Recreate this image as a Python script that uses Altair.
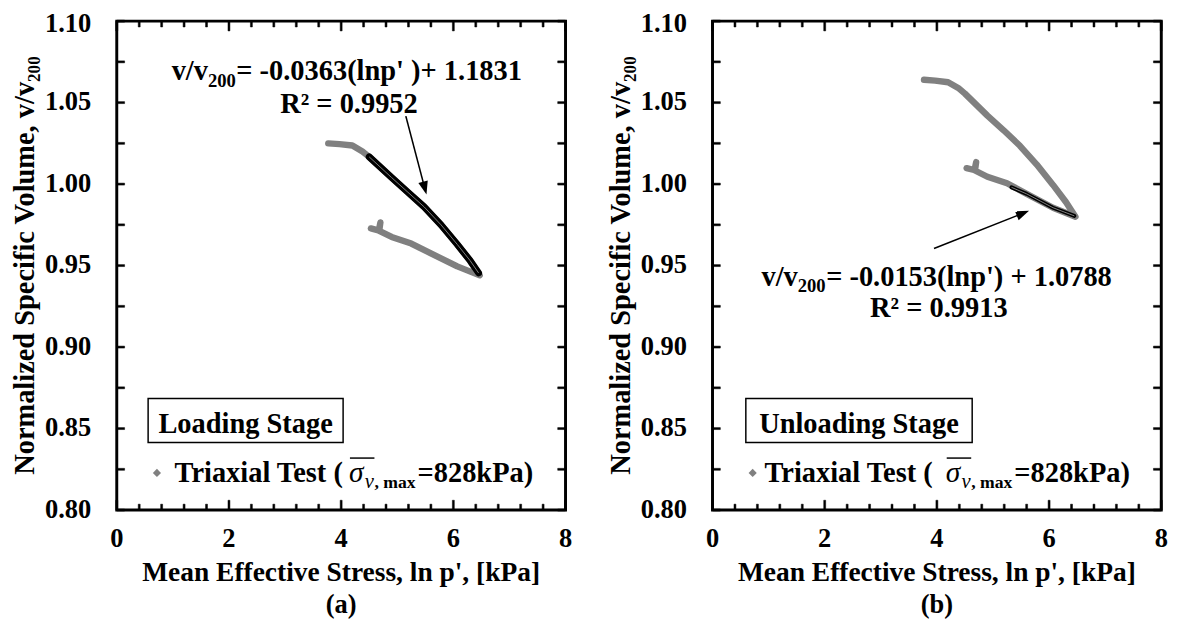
import altair as alt
import pandas as pd

FONT = "Liberation Serif"
GRAY = "#808080"

# ---------------- axis ticks and tick labels ----------------
X_MAJOR = [0, 2, 4, 6, 8]
X_LABELS = ["0", "2", "4", "6", "8"]
X_MINOR = [0.4, 0.8, 1.2, 1.6, 2.4, 2.8, 3.2, 3.6, 4.4, 4.8,
           5.2, 5.6, 6.4, 6.8, 7.2, 7.6]
Y_TICKS = [0.8, 0.825, 0.85, 0.875, 0.9, 0.925, 0.95, 0.975, 1.0, 1.025,
           1.05, 1.075, 1.1]
Y_LABEL_VALUES = [0.80, 0.85, 0.90, 0.95, 1.00, 1.05, 1.10]
Y_LABELS = ["0.80", "0.85", "0.90", "0.95", "1.00", "1.05", "1.10"]

# ---------------- panel (a): loading stage ----------------
A_LOAD_X = [3.77, 3.97, 4.20, 4.38, 4.50, 4.90, 5.19, 5.48, 5.78, 6.07, 6.30, 6.47]
A_LOAD_Y = [1.025, 1.0245, 1.0237, 1.020, 1.0167, 1.004, 0.995, 0.986, 0.975, 0.963, 0.953, 0.944]
A_UNLOAD_X = [6.47, 6.07, 5.60, 5.25, 4.90, 4.67, 4.70, 4.68, 4.53]
A_UNLOAD_Y = [0.944, 0.9495, 0.9575, 0.9635, 0.9676, 0.9715, 0.9765, 0.9715, 0.9728]
A_FIT_X = [4.50, 4.90, 5.19, 5.48, 5.78, 6.07, 6.30, 6.45]
A_FIT_Y = [1.0167, 1.004, 0.995, 0.986, 0.975, 0.963, 0.953, 0.9455]

# ---------------- panel (b): unloading stage ----------------
B_LOAD_X = [3.77, 3.97, 4.20, 4.38, 4.50, 4.90, 5.19, 5.48, 5.78, 6.07, 6.30, 6.47]
B_LOAD_Y = [1.064, 1.0635, 1.0625, 1.059, 1.0555, 1.042, 1.033, 1.0235, 1.012, 0.9995, 0.989, 0.980]
B_UNLOAD_X = [6.47, 6.07, 5.60, 5.25, 4.90, 4.67, 4.70, 4.68, 4.53]
B_UNLOAD_Y = [0.980, 0.9855, 0.994, 1.0005, 1.0045, 1.0085, 1.0135, 1.0085, 1.0098]
B_FIT_X = [5.33, 5.60, 6.07, 6.45]
B_FIT_Y = [0.998, 0.994, 0.9855, 0.9805]

# ---------------- texts ----------------
X_TITLE = "Mean Effective Stress, ln p', [kPa]"
Y_TITLE = "Normalized Specific Volume, v/v\u2082\u2080\u2080"
A_EQ = ["v/v", "200", " = -0.0363(lnp' )+ 1.1831"]
A_R2 = "R\u00b2 = 0.9952"
B_EQ = ["v/v", "200", " = -0.0153(lnp') + 1.0788"]
B_R2 = "R\u00b2 = 0.9913"
A_STAGE = "Loading Stage"
B_STAGE = "Unloading Stage"
A_LEG = ["Triaxial Test (", "\u03c3", "v", ", max", " =828kPa)"]
B_LEG = ["Triaxial Test ( ", "\u03c3", "v", ", max", " =828kPa)"]

# annotation anchors (data units)
A_EQ_POS = (0.978, 1.0639)
A_R2_POS = (4.14, 1.0435)
B_EQ_POS = (0.873, 0.9377)
B_R2_POS = (4.035, 0.9184)
A_ARROW = (5.153, 1.0417, 5.489, 0.9977, 165)
B_ARROW = (3.948, 0.9605, 5.528, 0.982, 68)
A_BOX = (0.559, 4.035, 0.8685, 0.8415)
B_BOX = (0.594, 4.629, 0.8685, 0.8415)
STAGE_Y = 0.8475
LEG_MARK_Y = 0.8228
LEG_TEXT_Y = 0.8174
A_LEG_X = 1.03
B_LEG_X = 0.926

W, H = 458, 499
X_DOM = [0, 8]
Y_DOM = [0.8, 1.1]
XS = alt.Scale(domain=X_DOM, nice=False, zero=False)
YS = alt.Scale(domain=Y_DOM, nice=False, zero=False)
KX = (X_DOM[1] - X_DOM[0]) / W   # data units per pixel
KY = (Y_DOM[1] - Y_DOM[0]) / H

# tick lengths / label gaps in pixels
Y_TICK_LEN = 8
X_MAJOR_LEN = 10
X_MINOR_LEN = 6
TICK_HALF = 1.0
Y_LABEL_PAD = 26
X_LABEL_PAD = 17
Y_TITLE_GAP = 78
X_TITLE_GAP = 50


def X(field="x"):
    return alt.X(f"{field}:Q", scale=XS, axis=None)


def Y(field="y"):
    return alt.Y(f"{field}:Q", scale=YS, axis=None)


def txt(x, y, t, size, dx=0, dy=0, align="left", weight="bold", style="normal",
        baseline="alphabetic", angle=0):
    d = pd.DataFrame({"x": x if isinstance(x, list) else [x],
                      "y": y if isinstance(y, list) else [y],
                      "t": t if isinstance(t, list) else [t]})
    return alt.Chart(d).mark_text(
        align=align, baseline=baseline, dx=dx, dy=dy, fontSize=size, angle=angle,
        font=FONT, fontWeight=weight, fontStyle=style, color="black"
    ).encode(x=X(), y=Y(), text="t:N")


def tick_layer():
    # ticks drawn as thin filled rectangles inside the frame
    rows = []
    hx, hy = TICK_HALF * KX, TICK_HALF * KY
    for t in Y_TICKS:
        rows.append((X_DOM[0], X_DOM[0] + Y_TICK_LEN * KX, t - hy, t + hy))
        rows.append((X_DOM[1] - Y_TICK_LEN * KX, X_DOM[1], t - hy, t + hy))
    for t in X_MAJOR:
        rows.append((t - hx, t + hx, Y_DOM[0], Y_DOM[0] + X_MAJOR_LEN * KY))
        rows.append((t - hx, t + hx, Y_DOM[1] - X_MAJOR_LEN * KY, Y_DOM[1]))
    for t in X_MINOR:
        rows.append((t - hx, t + hx, Y_DOM[0], Y_DOM[0] + X_MINOR_LEN * KY))
        rows.append((t - hx, t + hx, Y_DOM[1] - X_MINOR_LEN * KY, Y_DOM[1]))
    df = pd.DataFrame(rows, columns=["tx", "tx2", "ty", "ty2"])
    return alt.Chart(df).mark_rect(fill="black", stroke="black", strokeWidth=0.5,
                                   opacity=1).encode(
        x=X("tx"), x2="tx2:Q", y=Y("ty"), y2="ty2:Q")


def axis_text_layers():
    n = len(Y_LABEL_VALUES)
    ylab = txt([X_DOM[0]] * (n - 1), Y_LABEL_VALUES[:-1], Y_LABELS[:-1], 27,
               dx=-Y_LABEL_PAD, align="right", baseline="middle")
    ytop = txt(X_DOM[0], Y_LABEL_VALUES[-1], Y_LABELS[-1], 27,
               dx=-Y_LABEL_PAD, dy=3, align="right", baseline="middle")
    xlab = txt(X_MAJOR, [Y_DOM[0]] * len(X_MAJOR), X_LABELS, 27,
               dy=X_LABEL_PAD, align="center", baseline="top")
    xtitle = txt((X_DOM[0] + X_DOM[1]) / 2, Y_DOM[0], X_TITLE, 28,
                 dy=X_TITLE_GAP, align="center", baseline="top")
    ytitle = txt(X_DOM[0] - Y_TITLE_GAP * KX, (Y_DOM[0] + Y_DOM[1]) / 2, Y_TITLE, 29,
                 align="center", baseline="bottom", angle=270)
    return [ylab, ytop, xlab, xtitle, ytitle]


def panel(lx, ly, ux, uy, fx, fy, fit_w, eq, eq_pos, r2, r2_pos, arrow,
          stage, box, leg, leg_x, s, caption):
    xs = lx + ux
    ys = ly + uy
    df = pd.DataFrame({"x": xs, "y": ys, "i": list(range(len(xs)))})
    fdf = pd.DataFrame({"x": fx, "y": fy, "i": list(range(len(fx)))})

    gray = alt.Chart(df).mark_line(
        color=GRAY, strokeWidth=6.5, strokeJoin="round", strokeCap="round"
    ).encode(x=X(), y=Y(), order="i:Q")

    black = alt.Chart(fdf).mark_line(
        color="black", strokeWidth=fit_w, strokeJoin="round", strokeCap="round"
    ).encode(x=X(), y=Y(), order="i:Q")
    center = alt.Chart(fdf).mark_line(color=GRAY, strokeWidth=1).encode(
        x=X(), y=Y(), order="i:Q")

    tx, ty, hx, hy, ang = arrow
    arr_line = alt.Chart(pd.DataFrame({"x": [tx], "y": [ty], "x2": [hx], "y2": [hy]})).mark_rule(
        color="black", strokeWidth=1.6).encode(x=X(), y=Y(), x2="x2:Q", y2="y2:Q")
    arr_head = alt.Chart(pd.DataFrame({"x": [hx], "y": [hy]})).mark_point(
        shape="M0,-1L0.7,0.9L-0.7,0.9Z", filled=True, color="black", opacity=1,
        size=200, angle=ang, strokeWidth=0).encode(x=X(), y=Y())

    ex, ey = eq_pos
    eq1 = txt(ex, ey, eq[0], 29)
    eq2 = txt(ex, ey, eq[1], 19, dx=37, dy=7)
    eq3 = txt(ex, ey, eq[2], 29, dx=66)
    rx, ry = r2_pos
    r2t = txt(rx, ry, r2, 29, align="center")

    bx1, bx2, by1, by2 = box
    rect = alt.Chart(pd.DataFrame({"x": [bx1], "x2": [bx2], "y": [by1], "y2": [by2]})).mark_rect(
        fill="white", stroke="black", strokeWidth=1.5).encode(
        x=X(), y=Y(), x2="x2:Q", y2="y2:Q")
    st = txt((bx1 + bx2) / 2, STAGE_Y, stage, 29, align="center")

    diamond = alt.Chart(pd.DataFrame({"x": [0.716], "y": [LEG_MARK_Y]})).mark_point(
        shape="diamond", filled=True, color=GRAY, opacity=1, size=70).encode(x=X(), y=Y())
    l1 = txt(leg_x, LEG_TEXT_Y, leg[0], 29)
    l2 = txt(leg_x, LEG_TEXT_Y, leg[1], 30, dx=s, weight="normal", style="italic")
    l3 = txt(leg_x, LEG_TEXT_Y, leg[2], 21, dx=s + 16, dy=6, weight="normal", style="italic")
    l4 = txt(leg_x, LEG_TEXT_Y, leg[3], 18, dx=s + 26, dy=6)
    l5 = txt(leg_x, LEG_TEXT_Y, leg[4], 29, dx=s + 70)
    ol_x1 = leg_x + (s + 1) * KX
    ol_x2 = leg_x + (s + 26) * KX
    overline = alt.Chart(pd.DataFrame({"x": [ol_x1], "x2": [ol_x2], "y": [LEG_TEXT_Y + 0.0145]})).mark_rule(
        color="black", strokeWidth=1.5).encode(x=X(), x2="x2:Q", y=Y())

    return alt.layer(
        gray, black, center, arr_line, arr_head, eq1, eq2, eq3,
        r2t, rect, st, diamond, l1, l2, l3, l4, l5, overline,
        *axis_text_layers(), tick_layer()
    ).properties(
        width=W, height=H,
        title=alt.TitleParams(caption, orient="bottom", font=FONT, fontSize=27,
                              fontWeight="bold", color="black", offset=6,
                              anchor="middle", frame="group"))


pa = panel(A_LOAD_X, A_LOAD_Y, A_UNLOAD_X, A_UNLOAD_Y, A_FIT_X, A_FIT_Y, 7,
           A_EQ, A_EQ_POS, A_R2, A_R2_POS, A_ARROW, A_STAGE, A_BOX, A_LEG,
           A_LEG_X, 178, "(a)")
pb = panel(B_LOAD_X, B_LOAD_Y, B_UNLOAD_X, B_UNLOAD_Y, B_FIT_X, B_FIT_Y, 4,
           B_EQ, B_EQ_POS, B_R2, B_R2_POS, B_ARROW, B_STAGE, B_BOX, B_LEG,
           B_LEG_X, 185, "(b)")

chart = alt.hconcat(pa, pb, spacing=32).properties(
    padding={"left": 2, "top": -6, "right": 5, "bottom": 3},
    background="white",
).configure_view(stroke="black", strokeWidth=3)

chart.save("out.html", embed_options={"renderer": "svg", "actions": False})
